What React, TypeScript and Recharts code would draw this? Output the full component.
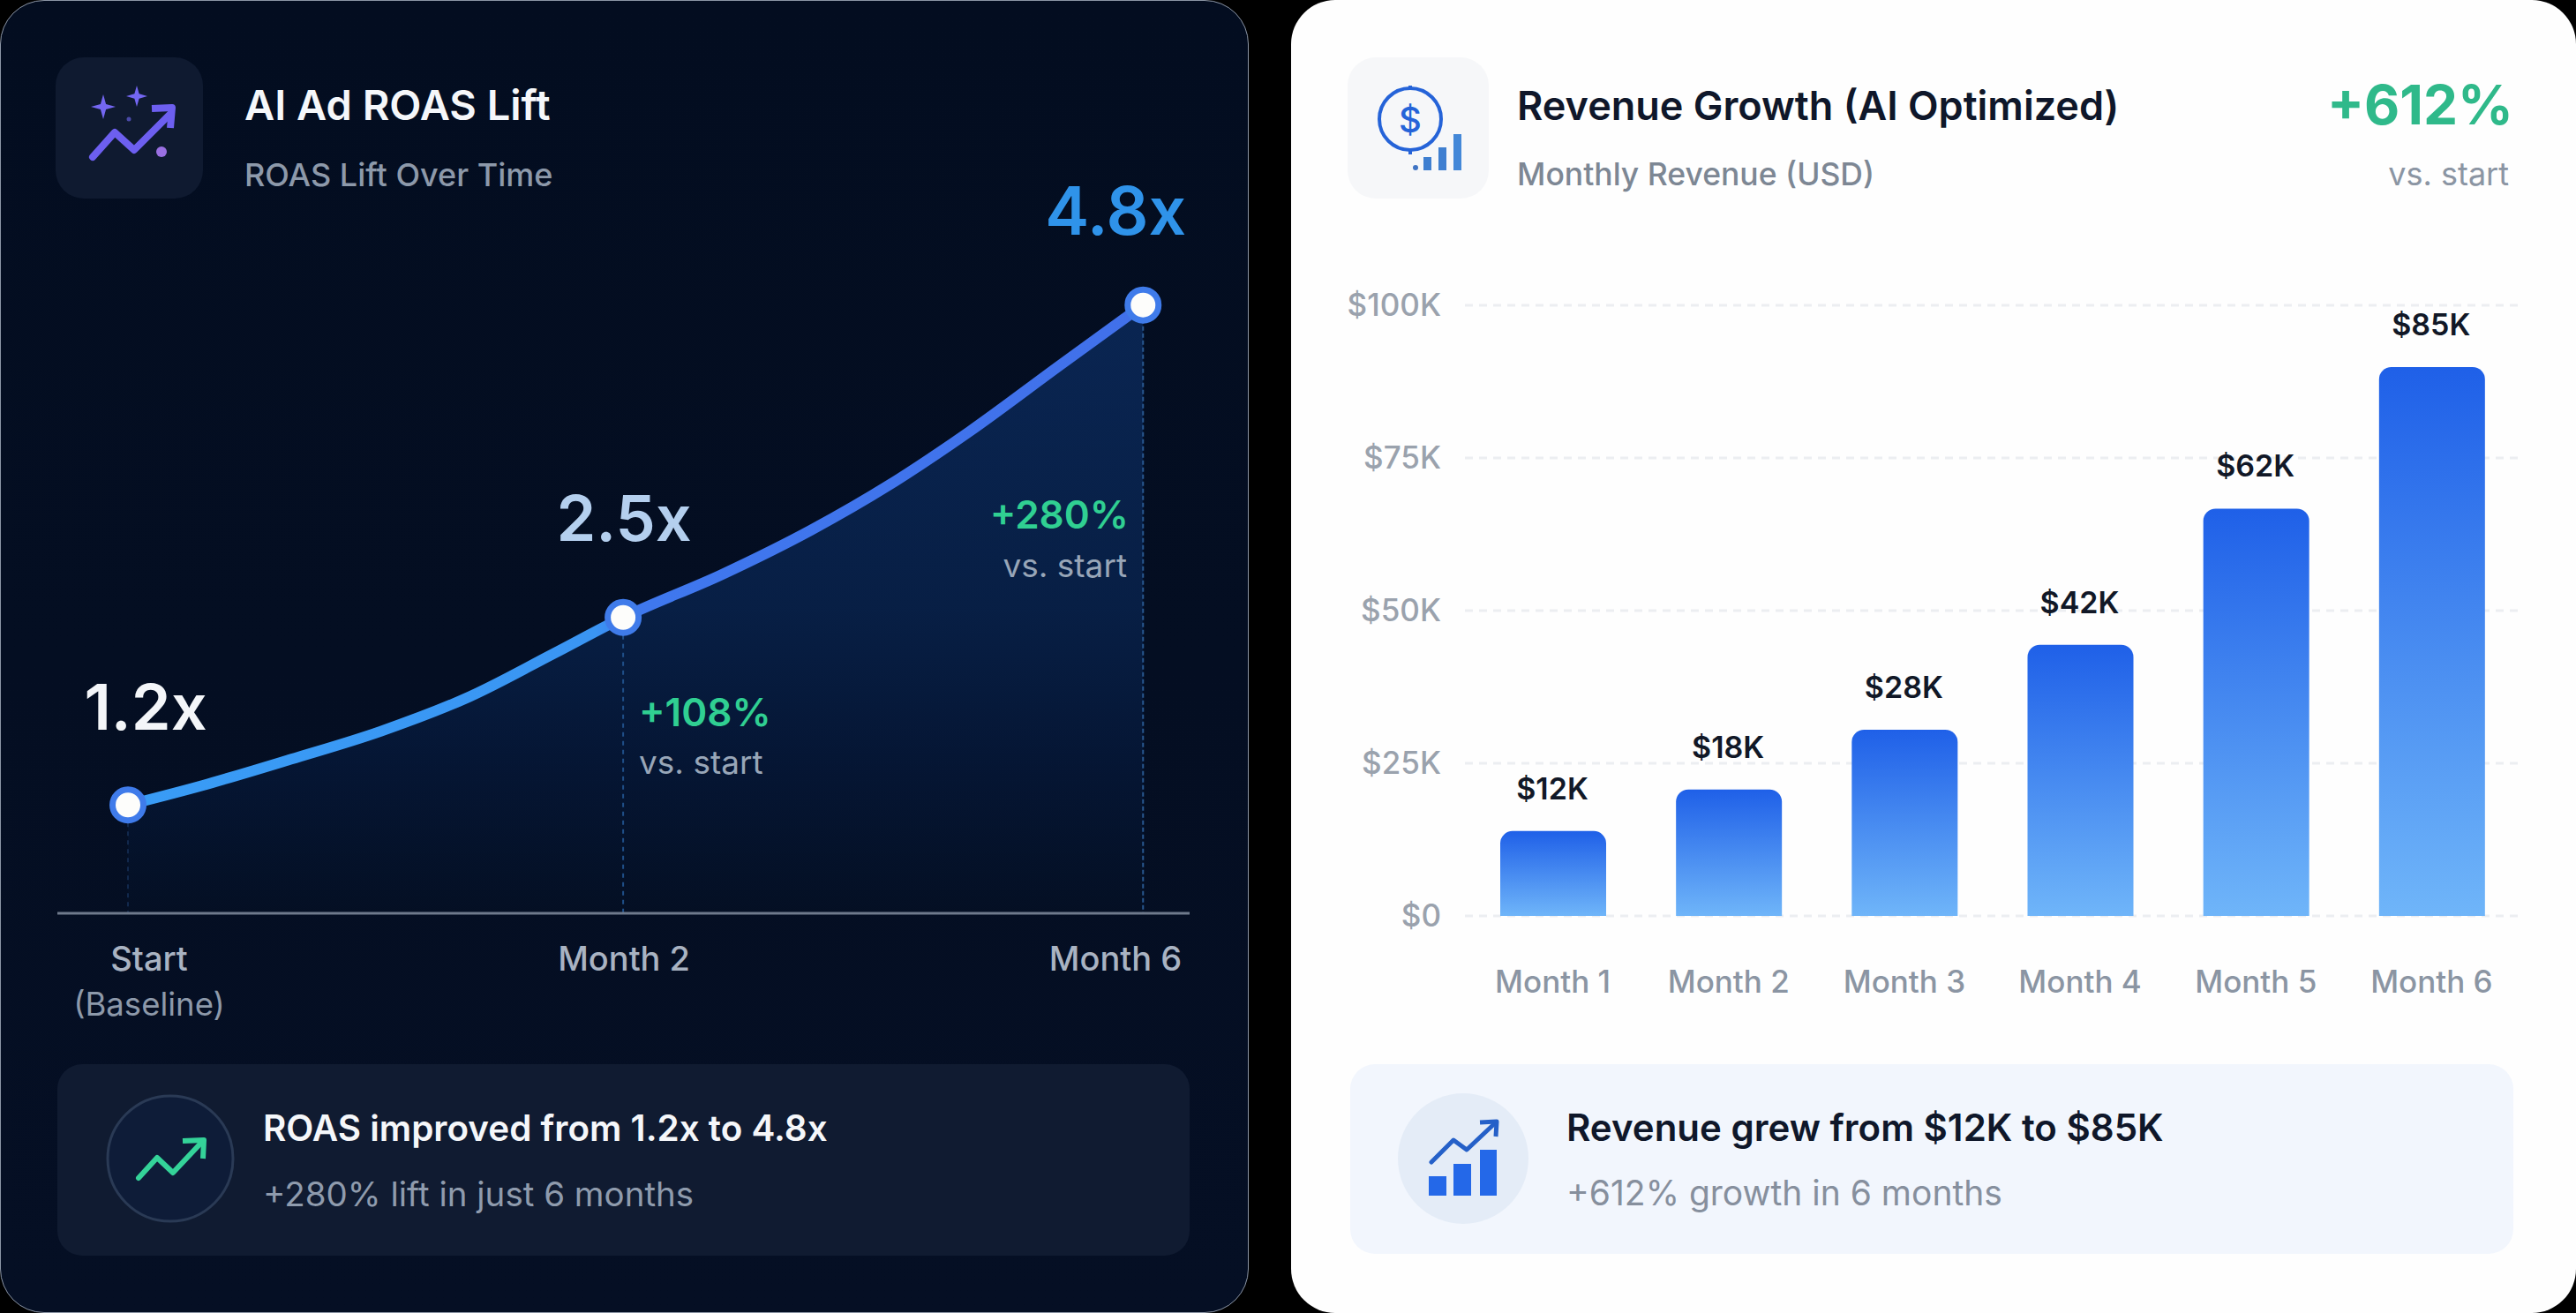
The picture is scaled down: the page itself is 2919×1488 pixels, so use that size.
import {
  Area,
  Bar,
  BarChart,
  CartesianGrid,
  Cell,
  ComposedChart,
  LabelList,
  Line,
  ReferenceLine,
  XAxis,
  YAxis,
} from "recharts";

const FONT = "Inter, 'Noto Sans', sans-serif";

// left card: the curve at regular spots.
// curveStep 0 = Start, 1 = Month 2, 2.05 = Month 6 (the picture does not space them evenly)
const curveStep = [0, 0.15, 0.33, 0.51, 0.69, 0.86, 1, 1.2, 1.38, 1.54, 1.7, 1.88, 2.05];
const curveRoas = [1.2, 1.34, 1.53, 1.73, 1.98, 2.29, 2.55, 2.86, 3.18, 3.51, 3.89, 4.36, 4.8];
const curveLabels = ["1.2x", "", "", "", "", "", "2.5x", "", "", "", "", "", "4.8x"];
const roasTicks = [0, 1, 2.05];
const roasTickNames = ["Start", "Month 2", "Month 6"];

// right card: bar heights as drawn against the axis, the printed labels are lower
const months = ["Month 1", "Month 2", "Month 3", "Month 4", "Month 5", "Month 6"];
const revenueDrawn = [13.9, 20.7, 30.5, 44.4, 66.7, 89.9];
const revenueLabels = ["$12K", "$18K", "$28K", "$42K", "$62K", "$85K"];
const revenueTicks = [0, 25, 50, 75, 100];

const roasData = curveStep.map((step, i) => ({
  step,
  roas: curveRoas[i],
  label: curveLabels[i],
}));
const revenueData = months.map((month, i) => ({
  month,
  drawn: revenueDrawn[i],
  label: revenueLabels[i],
}));

const ROAS_LABEL_STYLE: Record<string, { dx: number; dy: number; fill: string; size: number }> = {
  "1.2x": { dx: 20, dy: -85, fill: "#f4f6f9", size: 72 },
  "2.5x": { dx: 1, dy: -87, fill: "#b4cfee", size: 72 },
  "4.8x": { dx: -31, dy: -80, fill: "#2f93ea", size: 75 },
};

function RoasLabel(props: any) {
  const { x, y, value } = props;
  if (!value) return null;
  const s = ROAS_LABEL_STYLE[value];
  return (
    <text
      x={x + s.dx}
      y={y + s.dy}
      textAnchor="middle"
      fontFamily={FONT}
      fontSize={s.size}
      fontWeight={600}
      fill={s.fill}
    >
      {value}
    </text>
  );
}

function RoasDot(props: any) {
  const { cx, cy, payload, index } = props;
  if (!payload.label) return <g key={index} />;
  return (
    <circle
      key={index}
      cx={cx}
      cy={cy}
      r={17.5}
      fill="#fdfdfb"
      stroke="#3f7bea"
      strokeWidth={7}
    />
  );
}

function RoasTick(props: any) {
  const { x, y, payload } = props;
  const i = roasTicks.indexOf(payload.value);
  const fam = { fontFamily: FONT, fontSize: 38, fontWeight: 500, fill: "#a9b3c2" };
  if (i === 0) {
    return (
      <g>
        <text x={x + 24} y={y + 57} textAnchor="middle" {...fam}>
          {roasTickNames[0]}
        </text>
        <text
          x={x + 24}
          y={y + 108}
          textAnchor="middle"
          fontFamily={FONT}
          fontSize={36.5}
          fill="#8d99aa"
        >
          (Baseline)
        </text>
      </g>
    );
  }
  return (
    <text
      x={i === 2 ? x + 44 : x + 1}
      y={y + 57}
      textAnchor={i === 2 ? "end" : "middle"}
      {...fam}
    >
      {roasTickNames[i]}
    </text>
  );
}

function RoasChart() {
  return (
    <ComposedChart
      width={1415}
      height={1200}
      data={roasData}
      margin={{ top: 300, right: 67, bottom: 0, left: 65 }}
    >
      <defs>
        <linearGradient id="roasFill" x1="0" y1="0" x2="0" y2="1">
          <stop offset="0" stopColor="#0e3573" />
          <stop offset="0.5" stopColor="#0a2a5c" />
          <stop offset="0.75" stopColor="#061b40" />
          <stop offset="1" stopColor="#041024" />
        </linearGradient>
        <linearGradient id="roasStroke" x1="0" y1="0" x2="1" y2="0">
          <stop offset="0" stopColor="#399cf6" />
          <stop offset="0.46" stopColor="#3a95f3" />
          <stop offset="0.5" stopColor="#3f78ee" />
          <stop offset="1" stopColor="#4170ea" />
        </linearGradient>
      </defs>
      <XAxis
        type="number"
        dataKey="step"
        domain={[-0.1426, 2.144]}
        ticks={roasTicks}
        interval={0}
        height={165}
        tickLine={false}
        axisLine={{ stroke: "#6f7a8c", strokeWidth: 3 }}
        tick={<RoasTick />}
      />
      <YAxis hide type="number" domain={[0.42, 5.09]} />
      <Area
        type="monotone"
        dataKey="roas"
        stroke="none"
        fill="url(#roasFill)"
        isAnimationActive={false}
        dot={false}
        activeDot={false}
      />
      <ReferenceLine
        segment={[
          { x: 0, y: 1.2 },
          { x: 0, y: 0.42 },
        ]}
        stroke="#12294d"
        strokeWidth={2}
        strokeDasharray="5 5"
      />
      <ReferenceLine
        segment={[
          { x: 1, y: 2.55 },
          { x: 1, y: 0.42 },
        ]}
        stroke="#1f4f88"
        strokeWidth={2}
        strokeDasharray="5 5"
      />
      <ReferenceLine
        segment={[
          { x: 2.05, y: 4.8 },
          { x: 2.05, y: 0.42 },
        ]}
        stroke="#28578f"
        strokeWidth={2}
        strokeDasharray="5 3"
      />
      <Line
        type="monotone"
        dataKey="roas"
        stroke="url(#roasStroke)"
        strokeWidth={12}
        strokeLinecap="round"
        dot={<RoasDot />}
        activeDot={false}
        isAnimationActive={false}
      >
        <LabelList dataKey="label" content={<RoasLabel />} />
      </Line>
    </ComposedChart>
  );
}

function RevenueLabel(props: any) {
  const { x, y, width, value } = props;
  return (
    <text
      x={x + width / 2 - 1}
      y={y - 36}
      textAnchor="middle"
      fontFamily={FONT}
      fontSize={34}
      fontWeight={600}
      fill="#111827"
    >
      {value}
    </text>
  );
}

function RevenueChart() {
  return (
    <BarChart
      width={1456}
      height={838}
      data={revenueData}
      margin={{ top: 46, right: 64, bottom: 0, left: 0 }}
      barCategoryGap={0}
    >
      <defs>
        <linearGradient id="barFill" x1="0" y1="0" x2="0" y2="1">
          <stop offset="0" stopColor="#1f60e8" />
          <stop offset="1" stopColor="#6fb5f9" />
        </linearGradient>
      </defs>
      <CartesianGrid
        vertical={false}
        stroke="#eceef1"
        strokeWidth={3}
        strokeDasharray="9 7"
      />
      <XAxis
        dataKey="month"
        height={100}
        axisLine={false}
        tickLine={false}
        tickSize={0}
        tickMargin={62}
        tick={{ fill: "#8b95a3", fontSize: 35, fontFamily: FONT, fontWeight: 500 }}
      />
      <YAxis
        type="number"
        domain={[0, 100]}
        ticks={revenueTicks}
        width={197}
        axisLine={false}
        tickLine={false}
        tickSize={0}
        tickMargin={27}
        tickFormatter={(v) => (v === 0 ? "$0" : `$${v}K`)}
        tick={{ fill: "#9aa2ad", fontSize: 35, fontFamily: FONT, fontWeight: 500 }}
      />
      <Bar
        dataKey="drawn"
        barSize={120}
        radius={[14, 14, 0, 0]}
        isAnimationActive={false}
      >
        {revenueData.map((_d, i) => (
          <Cell key={i} fill="url(#barFill)" />
        ))}
        <LabelList dataKey="label" content={<RevenueLabel />} />
      </Bar>
    </BarChart>
  );
}

function Sparkle({ x, y, r, fill }: { x: number; y: number; r: number; fill: string }) {
  const k = r * 0.22;
  return (
    <path
      d={`M${x} ${y - r}L${x + k} ${y - k}L${x + r} ${y}L${x + k} ${y + k}L${x} ${y + r}L${x - k} ${y + k}L${x - r} ${y}L${x - k} ${y - k}Z`}
      fill={fill}
    />
  );
}

// all the card text and the small icons, in page pixels
function Overlay() {
  const t = { fontFamily: FONT };
  return (
    <svg
      width={2919}
      height={1488}
      style={{ position: "absolute", left: 0, top: 0, pointerEvents: "none" }}
    >
      {/* left card header */}
      <rect x={63} y={65} width={167} height={160} rx={32} fill="#0f1a30" />
      <polyline
        points="105,178 130,150 152,170 192,130"
        fill="none"
        stroke="#6d5ff0"
        strokeWidth={8}
        strokeLinecap="round"
        strokeLinejoin="round"
      />
      <polyline
        points="172,123 195,122 193,145"
        fill="none"
        stroke="#6d5ff0"
        strokeWidth={8}
        strokeLinejoin="round"
      />
      <Sparkle x={117} y={121} r={14} fill="#7467f2" />
      <Sparkle x={155} y={109} r={12} fill="#7467f2" />
      <circle cx={183} cy={172} r={6} fill="#9a70e2" />
      <circle cx={146} cy={135} r={2.5} fill="#4a4aa8" />
      <text x={277} y={136} fontSize={47} fontWeight={600} fill="#f5f7fa" {...t}>
        AI Ad ROAS Lift
      </text>
      <text x={277} y={211} fontSize={36} fontWeight={500} fill="#8d99aa" {...t}>
        ROAS Lift Over Time
      </text>

      {/* left card annotations */}
      <text x={724} y={823} fontSize={44} fontWeight={600} fill="#30cf92" {...t}>
        +108%
      </text>
      <text x={724} y={877} fontSize={37} fill="#98a6b8" {...t}>
        vs. start
      </text>
      <text x={1279} y={599} textAnchor="end" fontSize={44} fontWeight={600} fill="#30cf92" {...t}>
        +280%
      </text>
      <text x={1277} y={654} textAnchor="end" fontSize={37} fill="#98a6b8" {...t}>
        vs. start
      </text>

      {/* left card footer */}
      <circle cx={193} cy={1313} r={71} fill="#0e1c38" stroke="#2a3a55" strokeWidth={3} />
      <polyline
        points="157,1335 178,1312 196,1329 228,1295"
        fill="none"
        stroke="#34d399"
        strokeWidth={6}
        strokeLinecap="round"
        strokeLinejoin="round"
      />
      <polyline
        points="207,1293 231,1292 230,1313"
        fill="none"
        stroke="#34d399"
        strokeWidth={6}
        strokeLinejoin="round"
      />
      <text x={298} y={1293} fontSize={40.4} fontWeight={600} fill="#f5f7fa" {...t}>
        ROAS improved from 1.2x to 4.8x
      </text>
      <text x={298} y={1367} fontSize={38.5} fill="#8f9bad" {...t}>
        +280% lift in just 6 months
      </text>

      {/* right card header */}
      <rect x={1527} y={65} width={160} height={160} rx={32} fill="#f6f7f9" />
      <circle cx={1598} cy={135} r={35} fill="none" stroke="#2563d8" strokeWidth={4} />
      <line x1={1598} y1={97} x2={1598} y2={102} stroke="#2563d8" strokeWidth={4} />
      <line x1={1598} y1={168} x2={1598} y2={175} stroke="#2563d8" strokeWidth={4} />
      <text x={1598} y={150} textAnchor="middle" fontSize={40} fontWeight={500} fill="#2563d8" {...t}>
        $
      </text>
      <circle cx={1604} cy={190} r={3} fill="#3f74c4" />
      <rect x={1613} y={178} width={9} height={15} fill="#3f7fd0" />
      <rect x={1630} y={167} width={9} height={26} fill="#3f7fd0" />
      <rect x={1647} y={152} width={9} height={41} fill="#4488d8" />
      <text x={1719} y={136} fontSize={45} fontWeight={600} fill="#0f172a" {...t}>
        Revenue Growth (AI Optimized)
      </text>
      <text x={1719} y={210} fontSize={35.5} fontWeight={500} fill="#7d8794" {...t}>
        Monthly Revenue (USD)
      </text>
      <text x={2848} y={141} textAnchor="end" fontSize={62} fontWeight={700} fill="#2fb98a" {...t}>
        +612%
      </text>
      <text x={2843} y={210} textAnchor="end" fontSize={36} fill="#8b95a3" {...t}>
        vs. start
      </text>

      {/* right card footer */}
      <circle cx={1658} cy={1313} r={74} fill="#e4ecf7" />
      <rect x={1619} y={1333} width={20} height={22} fill="#2468e8" />
      <rect x={1647} y={1319} width={20} height={36} fill="#2468e8" />
      <rect x={1677} y={1303} width={19} height={52} fill="#2468e8" />
      <polyline
        points="1622,1317 1647,1292 1662,1303 1695,1272"
        fill="none"
        stroke="#2560c8"
        strokeWidth={5}
        strokeLinecap="round"
        strokeLinejoin="round"
      />
      <polyline
        points="1677,1272 1696,1271 1695,1288"
        fill="none"
        stroke="#2560c8"
        strokeWidth={5}
        strokeLinejoin="round"
      />
      <text x={1775} y={1293} fontSize={42} fontWeight={600} fill="#0f172a" {...t}>
        Revenue grew from $12K to $85K
      </text>
      <text x={1775} y={1366} fontSize={39} fill="#868f9d" {...t}>
        +612% growth in 6 months
      </text>
    </svg>
  );
}

export default function App() {
  return (
    <div
      style={{
        position: "absolute",
        left: 0,
        top: 0,
        width: 2919,
        height: 1488,
        background: "#000",
        overflow: "hidden",
      }}
    >
      <div
        style={{
          position: "absolute",
          left: 0,
          top: 0,
          width: 1413,
          height: 1486,
          borderRadius: 50,
          border: "1px solid #8b95a5",
          background: "linear-gradient(180deg, #030d20 0%, #050f24 100%)",
        }}
      />
      <div
        style={{
          position: "absolute",
          left: 65,
          top: 1206,
          width: 1283,
          height: 217,
          borderRadius: 28,
          background: "#101b31",
        }}
      />
      <div
        style={{
          position: "absolute",
          left: 1463,
          top: 0,
          width: 1456,
          height: 1488,
          borderRadius: 50,
          background: "#fefefe",
        }}
      />
      <div
        style={{
          position: "absolute",
          left: 1530,
          top: 1206,
          width: 1318,
          height: 215,
          borderRadius: 28,
          background: "#f2f6fd",
        }}
      />
      <div style={{ position: "absolute", left: 0, top: 0 }}>
        <RoasChart />
      </div>
      <div style={{ position: "absolute", left: 1463, top: 300 }}>
        <RevenueChart />
      </div>
      <Overlay />
    </div>
  );
}
